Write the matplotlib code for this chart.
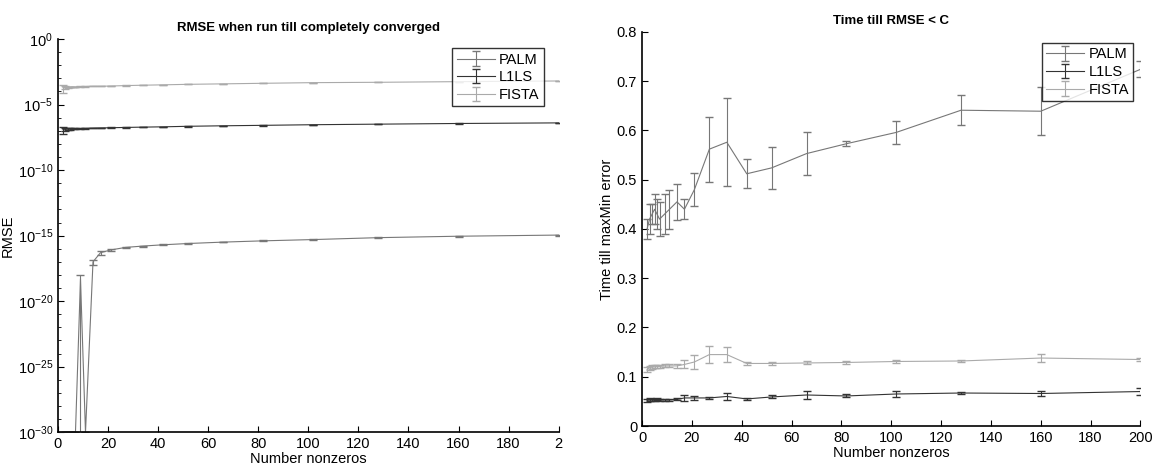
import numpy as np
import matplotlib
matplotlib.use('Agg')
from matplotlib import pyplot as plt
from matplotlib.ticker import NullFormatter, FixedLocator

plt.rcParams['font.family'] = ['Liberation Sans', 'DejaVu Sans']

# --- data ---
nnz = [2, 3, 4, 5, 6, 7, 9, 11, 14, 17, 21, 27, 34, 42, 52, 66, 82, 102, 128, 160, 200]

# left: RMSE when run till completely converged (1e-30 = sits on the axis floor)
palm_rmse = [1e-30, 1e-30, 1e-30, 1e-30, 1e-30, 1e-30, 5e-19, 1e-30, 1e-17, 5e-17, 8e-17,
             1.26e-16, 1.6e-16, 2e-16, 2.5e-16, 3.2e-16, 4e-16, 5e-16, 7e-16, 9e-16, 1.1e-15]
palm_rmse_err = [0, 0, 0, 0, 0, 0, 5.2e-19, 0, 4.5e-18, 1.5e-17, 1.5e-17,
                 1.5e-17, 1.5e-17, 2e-17, 2e-17, 2e-17, 3e-17, 4e-17, 5e-17, 6e-17, 8e-17]
l1ls_rmse = [1.3e-7, 1.3e-7, 1.35e-7, 1.4e-7, 1.4e-7, 1.45e-7, 1.5e-7, 1.55e-7, 1.6e-7, 1.65e-7, 1.7e-7,
             1.8e-7, 1.9e-7, 2.0e-7, 2.2e-7, 2.4e-7, 2.6e-7, 2.9e-7, 3.2e-7, 3.6e-7, 4.0e-7]
l1ls_rmse_err = [7e-8, 3e-8, 2e-8, 1.5e-8, 1e-8, 1e-8, 1e-8, 1e-8, 1e-8, 1e-8, 1e-8,
                 1e-8, 1e-8, 1e-8, 1e-8, 1e-8, 1e-8, 1e-8, 1e-8, 1e-8, 1e-8]
fista_rmse = [2.0e-4, 2.0e-4, 2.1e-4, 2.2e-4, 2.2e-4, 2.2e-4, 2.3e-4, 2.4e-4, 2.5e-4, 2.5e-4, 2.6e-4,
              2.8e-4, 3.0e-4, 3.2e-4, 3.5e-4, 3.8e-4, 4.2e-4, 4.7e-4, 5.0e-4, 5.6e-4, 6.3e-4]
fista_rmse_err = [1.2e-4, 4e-5, 2e-5, 1.5e-5, 1e-5, 1e-5, 1e-5, 1e-5, 1e-5, 1e-5, 1e-5,
                  1e-5, 1e-5, 1e-5, 1e-5, 1e-5, 1e-5, 1e-5, 1e-5, 1e-5, 1e-5]

# right: time till RMSE < C
palm_time = [0.40, 0.42, 0.43, 0.44, 0.43, 0.42, 0.43, 0.44, 0.455, 0.44, 0.48,
             0.562, 0.576, 0.512, 0.524, 0.553, 0.573, 0.596, 0.641, 0.639, 0.724]
palm_time_err = [0.02, 0.03, 0.02, 0.03, 0.03, 0.035, 0.04, 0.04, 0.037, 0.02, 0.033,
                 0.066, 0.089, 0.029, 0.042, 0.044, 0.005, 0.024, 0.031, 0.049, 0.016]
l1ls_time = [0.052, 0.053, 0.053, 0.053, 0.054, 0.053, 0.053, 0.053, 0.054, 0.057, 0.057,
             0.057, 0.060, 0.055, 0.059, 0.063, 0.061, 0.065, 0.067, 0.066, 0.070]
l1ls_time_err = [0.003, 0.003, 0.002, 0.002, 0.002, 0.002, 0.002, 0.002, 0.002, 0.006, 0.004,
                 0.002, 0.008, 0.002, 0.003, 0.009, 0.003, 0.006, 0.003, 0.005, 0.008]
fista_time = [0.115, 0.118, 0.120, 0.120, 0.121, 0.121, 0.122, 0.122, 0.122, 0.125, 0.130,
              0.145, 0.145, 0.127, 0.127, 0.128, 0.129, 0.131, 0.132, 0.138, 0.135]
fista_time_err = [0.005, 0.004, 0.004, 0.003, 0.003, 0.003, 0.003, 0.003, 0.004, 0.008, 0.015,
                  0.018, 0.016, 0.003, 0.003, 0.003, 0.003, 0.004, 0.003, 0.008, 0.004]

labels = ['PALM', 'L1LS', 'FISTA']
colors = ['#777777', '#333333', '#aaaaaa']

fig = plt.figure(figsize=(11.59, 4.76), dpi=100)
ax1 = fig.add_axes([0.050, 0.092, 0.432, 0.826])
ax2 = fig.add_axes([0.554, 0.105, 0.430, 0.828])

def style_axes(ax):
    # matlab look: box off, ticks pointing inwards
    ax.spines['top'].set_visible(False)
    ax.spines['right'].set_visible(False)
    ax.spines['left'].set_linewidth(1.2)
    ax.spines['bottom'].set_linewidth(1.2)
    ax.tick_params(direction='in', labelsize=10.5, length=4, width=0.8)
    ax.tick_params(which='minor', direction='in', length=2.5, width=0.6)

def add_legend(ax, anchor):
    leg = ax.legend(loc='upper right', bbox_to_anchor=anchor, fontsize=10.5, frameon=True,
                    fancybox=False, borderpad=0.3, labelspacing=0.25, handlelength=2.6,
                    handletextpad=0.3)
    leg.get_frame().set_edgecolor('black')
    leg.get_frame().set_linewidth(1.0)
    return leg

# --- left plot ---
series_l = [(palm_rmse, palm_rmse_err), (l1ls_rmse, l1ls_rmse_err), (fista_rmse, fista_rmse_err)]
for (vals, errs), lab, c in zip(series_l, labels, colors):
    ax1.errorbar(nnz, vals, yerr=errs, color=c, lw=0.8, elinewidth=0.8, capsize=3, label=lab)
ax1.set_yscale('log', nonpositive='clip')
ax1.set_ylim(1e-30, 1)
ax1.set_xlim(0, 200)
ax1.yaxis.set_major_locator(FixedLocator([10.0 ** k for k in range(-30, 1, 5)]))
ax1.yaxis.set_minor_locator(FixedLocator([10.0 ** k for k in range(-30, 1)]))
ax1.yaxis.set_minor_formatter(NullFormatter())
ax1.set_xticks(range(0, 201, 20))
ax1.set_xticklabels([str(v) for v in range(0, 181, 20)] + ['2'])
ax1.set_title('RMSE when run till completely converged', fontsize=9.5, fontweight='bold')
ax1.set_xlabel('Number nonzeros', fontsize=10.5, labelpad=1)
ax1.set_ylabel('RMSE', fontsize=10.5, labelpad=2)
style_axes(ax1)
add_legend(ax1, (0.985, 0.995))

# --- right plot ---
series_r = [(palm_time, palm_time_err), (l1ls_time, l1ls_time_err), (fista_time, fista_time_err)]
for (vals, errs), lab, c in zip(series_r, labels, colors):
    ax2.errorbar(nnz, vals, yerr=errs, color=c, lw=0.8, elinewidth=0.8, capsize=3, label=lab)
ax2.set_xlim(0, 200)
ax2.set_ylim(0, 0.8)
ax2.set_xticks(range(0, 201, 20))
ax2.set_yticks([0, 0.1, 0.2, 0.3, 0.4, 0.5, 0.6, 0.7, 0.8])
ax2.set_yticklabels(['0', '0.1', '0.2', '0.3', '0.4', '0.5', '0.6', '0.7', '0.8'])
ax2.set_title('Time till RMSE < C', fontsize=9.5, fontweight='bold')
ax2.set_xlabel('Number nonzeros', fontsize=10.5, labelpad=1)
ax2.set_ylabel('Time till maxMin error', fontsize=10.5, labelpad=2)
style_axes(ax2)
add_legend(ax2, (1.0, 0.99))

fig.savefig('out.png', dpi=100)
